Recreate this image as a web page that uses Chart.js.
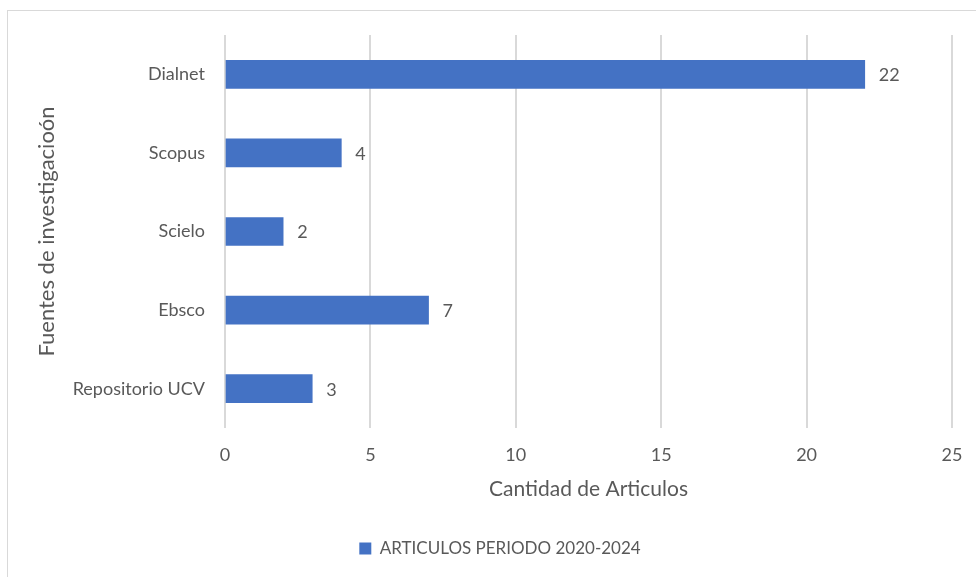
<!DOCTYPE html>
<html>
<head>
<meta charset="utf-8">
<script src="https://cdn.jsdelivr.net/npm/chart.js@4.4.1/dist/chart.umd.min.js"></script>
<style>
  html, body { margin: 0; padding: 0; background: #fff; overflow: hidden; }
  #frame {
    position: absolute; left: 7px; top: 10px;
    width: 990px; height: 590px;
    border: 1px solid #d9d9d9; box-sizing: border-box;
  }
  #wrap { position: absolute; left: 8px; top: 11px; width: 968px; height: 566px; }
</style>
</head>
<body>
<div id="frame"></div>
<div id="wrap"><canvas id="chart"></canvas></div>
<script>
// Fuentes de investigación vs cantidad de artículos
const SOURCES = ['Dialnet', 'Scopus', 'Scielo', 'Ebsco', 'Repositorio UCV'];
const ARTICLES = [22, 4, 2, 7, 3];
const SERIES_LABEL = 'ARTICULOS PERIODO 2020-2024';
const X_TICKS = [0, 5, 10, 15, 20, 25];

const TXT = '#595959';
const BLUE = '#4472C4';
const FONT = 'Lato, "Open Sans", sans-serif';

// value labels to the right of each bar
const barValues = {
  id: 'barValues',
  afterDatasetsDraw(chart) {
    const { ctx } = chart;
    const meta = chart.getDatasetMeta(0);
    ctx.save();
    ctx.fillStyle = TXT;
    ctx.font = `18px ${FONT}`;
    ctx.textAlign = 'left';
    ctx.textBaseline = 'middle';
    meta.data.forEach((bar, i) => {
      ctx.fillText(String(chart.data.datasets[0].data[i]), bar.x + 14, bar.y + 1);
    });
    ctx.restore();
  },
};

new Chart(document.getElementById('chart'), {
  type: 'bar',
  data: {
    labels: SOURCES,
    datasets: [{
      label: SERIES_LABEL,
      data: ARTICLES,
      backgroundColor: BLUE,
      borderWidth: 0,
      barThickness: 28,
    }],
  },
  plugins: [barValues],
  options: {
    indexAxis: 'y',
    responsive: true, maintainAspectRatio: false,
    animation: false,
    // left padding also shifts the centred legend to the right
    layout: { padding: { left: 40, top: 24, right: 24, bottom: 10 } },
    plugins: {
      legend: {
        position: 'bottom',
        labels: { color: TXT, boxWidth: 12, boxHeight: 12, padding: 10, font: { family: FONT, size: 17 } },
      },
      tooltip: { enabled: false },
    },
    scales: {
      x: {
        min: 0, max: 25,
        afterBuildTicks: s => { s.ticks = X_TICKS.map(v => ({ value: v })); },
        afterFit: s => { s.height = 102; s.paddingLeft = 0; s.paddingRight = 0; },
        grid: { color: '#d9d9d9', lineWidth: 2, drawTicks: false },
        border: { display: false },
        ticks: { color: TXT, padding: 16, font: { family: FONT, size: 18 } },
        title: { display: true, text: 'Cantidad de Articulos', color: TXT, padding: { top: 0, bottom: 28 }, font: { family: FONT, size: 21 } },
      },
      y: {
        afterFit: s => { s.width = 177; s.paddingTop = 0; s.paddingBottom = 0; },
        grid: { display: false, drawTicks: false },
        border: { display: false },
        ticks: { color: TXT, padding: 20, font: { family: FONT, size: 18 } },
        title: { display: true, text: 'Fuentes de investigacioón', color: TXT, padding: { top: -14, bottom: 0 }, font: { family: FONT, size: 22 } },
      },
    },
  },
});
</script>
</body>
</html>
